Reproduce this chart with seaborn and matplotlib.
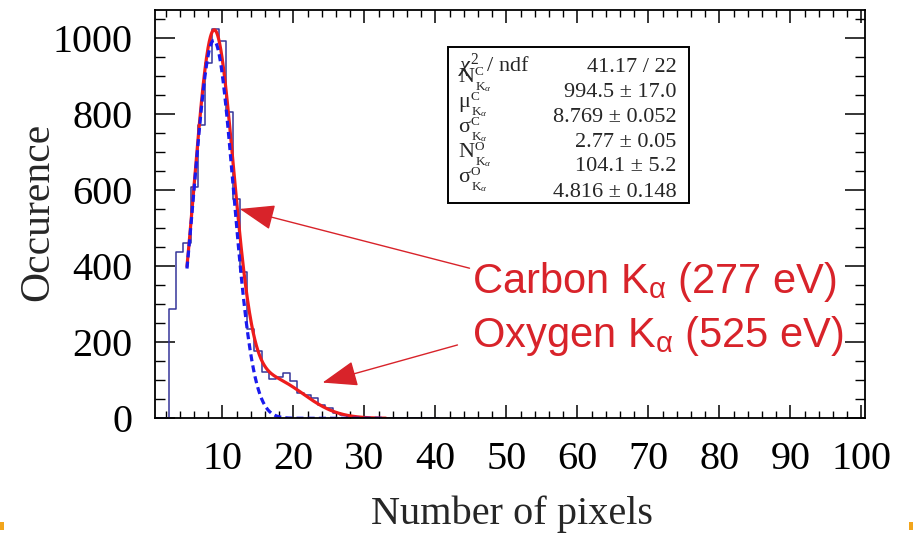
import numpy as np
import pandas as pd
import matplotlib
matplotlib.use("Agg")
import matplotlib.pyplot as plt
from matplotlib.ticker import MultipleLocator
from matplotlib.patches import Rectangle
import seaborn as sns

# Cluster size distribution (counts per integer number of pixels)
bin_centers = list(range(1, 41))
counts = [0, 0, 287, 438, 462, 608, 771, 934, 1024, 993,
          805, 576, 386, 234, 177, 123, 103, 110, 118, 98,
          67, 61, 53, 35, 26, 14, 8, 4, 3, 1,
          1, 0, 0, 0, 0, 0, 0, 0, 0, 0]

# Two-Gaussian fit results
chi2, ndf = 41.17, 22
n_c, n_c_err = 994.5, 17.0
mu_c, mu_c_err = 8.769, 0.052
sigma_c, sigma_c_err = 2.77, 0.05
n_o, n_o_err = 104.1, 5.2
sigma_o, sigma_o_err = 4.816, 0.148
e_carbon, e_oxygen = 277, 525
fit_range = (5.0, 33.0)

x_ticks = [10, 20, 30, 40, 50, 60, 70, 80, 90, 100]
y_ticks = [0, 200, 400, 600, 800, 1000]

sns.set_theme(style="ticks")
plt.rcParams["font.family"] = ["Liberation Serif", "DejaVu Serif"]
plt.rcParams["mathtext.fontset"] = "custom"
plt.rcParams["mathtext.rm"] = "Liberation Serif"
plt.rcParams["mathtext.it"] = "Liberation Serif:italic"
plt.rcParams["mathtext.sf"] = "Liberation Sans"

fig = plt.figure(figsize=(9.13, 5.33), dpi=100)
ax = fig.add_axes([0.1698, 0.2152, 0.7776, 0.7660])

hist_color = "#35359a"
red = "#ee1c1c"
blue = "#1a1aee"

hist_df = pd.DataFrame({"pixels": bin_centers, "count": counts})
sns.histplot(data=hist_df, x="pixels", weights="count", discrete=True,
             element="step", fill=False, color=hist_color, linewidth=1.1,
             ax=ax)

# fit functions: carbon Gaussian + oxygen Gaussian (mean scaled by line energy)
mu_o = mu_c * e_oxygen / e_carbon
xf = np.linspace(fit_range[0], fit_range[1], 500)
g_c = n_c * np.exp(-0.5 * ((xf - mu_c) / sigma_c) ** 2)
g_o = n_o * np.exp(-0.5 * ((xf - mu_o) / sigma_o) ** 2)
fit_df = pd.DataFrame({"x": xf, "total": g_c + g_o, "carbon": g_c})
sns.lineplot(data=fit_df, x="x", y="total", color=red, linewidth=2.3, ax=ax)
sns.lineplot(data=fit_df, x="x", y="carbon", color=blue, linewidth=2.3,
             linestyle=(0, (2.2, 1.3)), ax=ax)

ax.set_xlim(0.5, 100.5)
ax.set_ylim(0, 1074.5)
ax.set_xticks(x_ticks)
ax.set_yticks(y_ticks)
ax.xaxis.set_minor_locator(MultipleLocator(2))
ax.yaxis.set_minor_locator(MultipleLocator(50))
ax.tick_params(axis="both", which="both", direction="in", top=True, right=True,
               colors="black", labelsize=29)
ax.tick_params(axis="x", which="major", length=9.5, width=1.1, pad=16)
ax.tick_params(axis="x", which="minor", length=5, width=1.0)
ax.tick_params(axis="y", which="major", length=14.5, width=1.1, pad=16)
ax.tick_params(axis="y", which="minor", length=7.5, width=1.0)
for s in ax.spines.values():
    s.set_linewidth(1.3)
    s.set_color("black")

ax.set_xlabel("Number of pixels", fontsize=29)
ax.set_ylabel("Occurence", fontsize=30)
ax.xaxis.set_label_coords(0.5035, -0.188)
ax.yaxis.set_label_coords(-0.138, 0.505)

# statistics box
ax.add_patch(Rectangle((0.412, 0.527), 0.340, 0.382, transform=ax.transAxes,
                       facecolor="white", edgecolor="black", linewidth=1.4,
                       zorder=5))
par_symbols = ["N", "\u03bc", "\u03c3", "N", "\u03c3"]
par_lines = ["C", "C", "C", "O", "O"]
values = [f"{chi2:.2f} / {ndf}",
          f"{n_c:.1f} \u00b1 {n_c_err:.1f}",
          f"{mu_c:.3f} \u00b1 {mu_c_err:.3f}",
          f"{sigma_c:.2f} \u00b1 {sigma_c_err:.2f}",
          f"{n_o:.1f} \u00b1 {n_o_err:.1f}",
          f"{sigma_o:.3f} \u00b1 {sigma_o_err:.3f}"]
value_base = [0.849, 0.788, 0.726, 0.665, 0.606, 0.543]
label_base = [0.849, 0.8245, 0.7632, 0.7020, 0.6408, 0.5796]

ax.text(0.427, label_base[0], r"$\chi^{2}\,$ / ndf", transform=ax.transAxes,
        fontsize=16, ha="left", va="baseline", zorder=6)
for i, (sym, line) in enumerate(zip(par_symbols, par_lines), start=1):
    t = ax.text(0.427, label_base[i], sym, transform=ax.transAxes,
                fontsize=16, ha="left", va="baseline", zorder=6)
    # superscript element, subscript K-alpha, placed right after the symbol
    ax.annotate(line, xy=(1, 0), xycoords=t, xytext=(0.4, 8.4),
                textcoords="offset points", fontsize=9.5, ha="left",
                va="baseline", zorder=6)
    ax.annotate(r"K$_{\alpha}$", xy=(1, 0), xycoords=t, xytext=(0.4, -2.6),
                textcoords="offset points", fontsize=9.5, ha="left",
                va="baseline", zorder=6)
for i, val in enumerate(values):
    ax.text(0.735, value_base[i], val, transform=ax.transAxes, fontsize=16,
            ha="right", va="baseline", zorder=6)

# line annotations
ann_red = "#d8232a"
fig.text(0.517, 0.450, r"Carbon K$_{\mathsf{\alpha}}$ (277 eV)", color=ann_red,
         fontsize=30, family="Liberation Sans", ha="left", va="baseline")
fig.text(0.517, 0.349, r"Oxygen K$_{\mathsf{\alpha}}$ (525 eV)", color=ann_red,
         fontsize=30, family="Liberation Sans", ha="left", va="baseline")
arrow = dict(arrowstyle="-|>,head_length=2.2,head_width=0.8", color=ann_red,
             lw=1.0, shrinkA=0, shrinkB=0, mutation_scale=10)
ax.annotate("", xy=(12.43, 551), xytext=(44.8, 395), arrowprops=arrow)
ax.annotate("", xy=(24.1, 94), xytext=(43.1, 193), arrowprops=arrow)

# small orange corner marks
for xm in (0.0, 0.9956):
    fig.patches.append(Rectangle((xm, 0.006), 0.0044, 0.014,
                                 transform=fig.transFigure,
                                 facecolor="#f2a51c", edgecolor="none"))

fig.savefig("out.png", dpi=100, facecolor="white")
